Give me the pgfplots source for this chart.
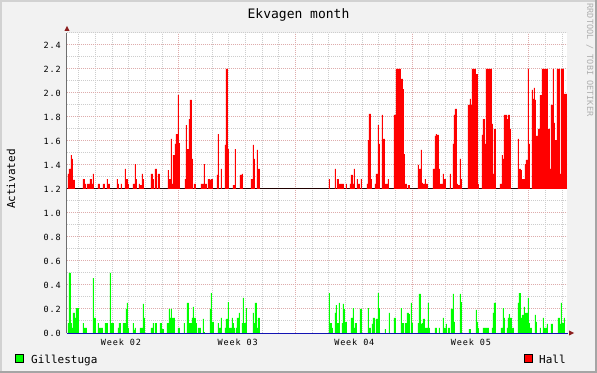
\documentclass[border=0pt]{standalone}
\usepackage{fontspec}
\usepackage{pgfplots}
\pgfplotsset{compat=1.18}
\newfontfamily\rrdmono{DejaVu Sans Mono}
\newfontfamily\rrdspaced{DejaVu Sans Mono}[LetterSpace=10]
\newcommand{\tickfont}{\rrdspaced\fontsize{8.5bp}{10bp}\selectfont}
\newcommand{\lblfont}{\rrdmono\fontsize{11bp}{13bp}\selectfont}
\newcommand{\titlefont}{\rrdmono\fontsize{13bp}{15bp}\selectfont}
\newcommand{\wmfont}{\rrdmono\fontsize{8.5bp}{10bp}\selectfont}
\definecolor{canvas}{RGB}{242,242,242}
\definecolor{mgrid}{RGB}{222,172,172}
\definecolor{sgrid}{RGB}{205,205,205}
\definecolor{axisc}{RGB}{110,110,110}
\definecolor{arrowc}{RGB}{140,30,30}
\definecolor{shadea}{RGB}{210,210,210}
\definecolor{shadeb}{RGB}{165,165,165}
\definecolor{hallred}{RGB}{255,0,0}
\definecolor{gillgreen}{RGB}{0,255,0}
\definecolor{baseblue}{RGB}{20,20,180}
\definecolor{wm}{RGB}{175,175,175}
\begin{document}
\begin{tikzpicture}
% canvas and frame (axis lower-left at origin)
\fill[canvas] (-67bp,-40bp) rectangle (530bp,333bp);
\fill[shadea] (-67bp,331bp) rectangle (530bp,333bp);
\fill[shadea] (-67bp,-40bp) rectangle (-65bp,333bp);
\fill[shadeb] (-67bp,-40bp) rectangle (530bp,-38bp);
\fill[shadeb] (528bp,-40bp) rectangle (530bp,333bp);
\begin{axis}[
  at={(0,0)}, anchor=south west,
  scale only axis, width=500bp, height=300bp,
  xmin=67, xmax=567, ymin=0, ymax=2.5,
  clip=false,
  axis background/.style={fill=white},
  axis line style={draw=none},
  tick style={draw=none},
  major tick length=0pt, minor tick length=0pt,
  xtick={179,295.67,412.33,529},
  xticklabels={},
  minor xtick={79,95.67,112.33,129,145.67,162.33,195.67,212.33,229,245.67,262.33,279,312.33,329,345.67,362.33,379,395.67,429,445.67,462.33,479,495.67,512.33,545.67,562.33},
  extra x ticks={121,237.67,354.33,471},
  extra x tick labels={Week 02,Week 03,Week 04,Week 05},
  extra x tick style={grid=none},
  xticklabel style={font=\tickfont, anchor=base, inner sep=0pt, yshift=-12bp},
  ytick={0,0.2,0.4,0.6,0.8,1.0,1.2,1.4,1.6,1.8,2.0,2.2,2.4},
  yticklabels={0.0,0.2,0.4,0.6,0.8,1.0,1.2,1.4,1.6,1.8,2.0,2.2,2.4},
  minor ytick={0.1,0.3,0.5,0.7,0.9,1.1,1.3,1.5,1.7,1.9,2.1,2.3,2.5},
  yticklabel style={font=\tickfont, anchor=east, inner sep=0pt, xshift=-6bp},
  xmajorgrids, xminorgrids, ymajorgrids, yminorgrids,
  major grid style={mgrid, line width=1bp, dash pattern=on 1bp off 1bp},
  minor grid style={sgrid, line width=1bp, dash pattern=on 1bp off 1bp},
  title={Ekvagen month},
  every axis title/.style={at={(axis description cs:0.463,1.0483)}, anchor=base, font=\titlefont},
  ylabel={Activated},
  every axis y label/.style={at={(axis description cs:-0.112,0.513)}, rotate=90, anchor=center, font=\lblfont},
]
% baseline of the Hall band
\addplot[black, line width=1bp] coordinates {(67,1.2) (567,1.2)};
% Hall (drawn offset by 1.2)
\addplot[const plot, fill=hallred, draw=none] coordinates {
(67,1.2)(68,1.325)(69,1.367)(71,1.483)(72,1.45)(73,1.275)(75,1.2)
(83,1.283)(85,1.242)(86,1.2)(87,1.242)(90,1.283)(92,1.242)(93,1.325)(94,1.2)
(98,1.242)(100,1.2)(103,1.242)(105,1.2)(107,1.283)(108,1.242)(110,1.2)
(117,1.283)(118,1.242)(119,1.2)(121,1.242)(122,1.2)
(125,1.367)(126,1.283)(128,1.242)(129,1.2)
(133,1.242)(135,1.408)(136,1.283)(137,1.2)(139,1.242)(140,1.233)(142,1.325)(143,1.283)(144,1.2)
(151,1.325)(153,1.283)(154,1.2)(155,1.367)(157,1.2)(158,1.325)(160,1.2)
(168,1.358)(169,1.283)(171,1.617)(172,1.242)(173,1.483)(175,1.575)(176,1.658)(178,1.983)(179,1.583)(180,1.2)
(185,1.283)(186,1.733)(187,1.533)(189,1.783)(190,1.942)(192,1.45)(193,1.2)(194,1.242)(196,1.2)
(201,1.242)(204,1.408)(205,1.242)(207,1.2)(208,1.283)(210,1.275)(211,1.283)(213,1.2)
(217,1.317)(218,1.658)(219,1.2)(221,1.367)(222,1.2)
(225,1.567)(226,2.2)(228,1.533)(229,1.2)
(233,1.233)(235,1.533)(236,1.2)
(240,1.317)(242,1.325)(243,1.2)
(251,1.283)(253,1.567)(254,1.45)(255,1.2)(257,1.525)(258,1.367)(260,1.2)
(329,1.283)(330,1.2)
(335,1.367)(336,1.2)(337,1.283)(339,1.242)(344,1.2)
(346,1.242)(347,1.2)
(350,1.242)(351,1.317)(353,1.242)(354,1.367)(355,1.2)
(357,1.283)(358,1.242)(360,1.2)(361,1.283)(362,1.2)
(367,1.242)(368,1.608)(369,1.825)(371,1.283)(372,1.2)
(375,1.242)(376,1.325)(378,1.733)(379,1.575)(380,1.2)
(382,1.817)(383,1.617)(385,1.242)(388,1.283)(389,1.2)
(394,1.817)(396,2.2)(401,2.117)(403,2.033)(404,1.49)(405,1.242)(407,1.2)(408,1.233)(410,1.2)
(418,1.4)(419,1.367)(421,1.525)(422,1.25)(423,1.242)(425,1.283)(426,1.242)(428,1.2)
(433,1.367)(435,1.642)(436,1.658)(437,1.65)(439,1.367)(440,1.242)(443,1.325)(444,1.283)(446,1.2)
(450,1.325)(451,1.2)
(453,1.575)(454,1.817)(455,1.867)(457,1.242)(458,1.233)(460,1.45)(461,1.283)(462,1.2)
(468,1.9)(470,1.95)(471,1.9)(472,2.2)(476,2.158)(478,1.242)(479,1.2)
(482,1.65)(483,1.783)(485,1.575)(486,2.2)(492,1.742)(493,1.325)(494,1.7)(496,1.2)
(500,1.242)(502,1.483)(503,1.45)(504,1.817)(507,1.783)(508,1.817)(510,1.7)(511,1.2)
(518,1.617)(519,1.367)(521,1.358)(522,1.283)(525,1.408)(526,1.442)(528,2.2)(529,1.575)(530,1.2)
(532,2.025)(533,1.95)(534,2.042)(535,1.942)(536,1.642)(538,1.7)(540,1.983)(542,2.2)(548,1.7)(550,1.367)(551,1.9)(553,2.2)(554,1.75)(555,1.608)(557,2.2)(560,1.325)(561,2.2)(564,1.992)(566,1.992)(567,1.2)
};
% Gillestuga
\addplot[const plot, fill=gillgreen, draw=none] coordinates {
(67,0)(68,0.083)(69,0.5)(71,0.083)(72,0.042)(73,0.167)(75,0.125)(76,0.208)(79,0)
(83,0.083)(84,0.042)(87,0)
(93,0.458)(94,0.125)(96,0)
(98,0.083)(99,0.042)(103,0)
(105,0.083)(108,0)
(110,0.5)(111,0.083)(114,0)
(118,0.042)(119,0.083)(121,0)
(123,0.083)(126,0.2)(127,0.25)(128,0.042)(129,0)
(133,0.083)(134,0.025)(135,0.042)(136,0)
(140,0.042)(143,0.242)(144,0.125)(145,0)
(151,0.042)(153,0.083)(154,0)(155,0.083)(157,0)
(160,0.083)(162,0.033)(164,0)
(167,0.083)(169,0.2)(170,0.125)(171,0.2)(172,0.125)(175,0)
(178,0.042)(180,0)
(184,0.083)(185,0)
(187,0.25)(189,0.083)(192,0.125)(193,0.217)(194,0.125)(196,0.083)(197,0)
(198,0.042)(201,0)
(203,0.117)(204,0.008)(205,0)
(210,0.2)(211,0.333)(212,0.092)(214,0)
(218,0.083)(219,0.042)(221,0.125)(222,0)
(225,0.042)(226,0.117)(228,0.258)(229,0.042)(232,0.125)(233,0.083)(234,0.042)(235,0)
(236,0.042)(237,0.125)(239,0.167)(240,0)
(242,0.083)(243,0.292)(244,0.083)(246,0.208)(247,0)
(253,0.167)(254,0.083)(255,0.25)(257,0.042)(258,0.125)(260,0)
(329,0.333)(330,0.083)(332,0.042)(333,0)
(335,0.167)(336,0.233)(337,0.083)(339,0.25)(340,0)
(342,0.083)(343,0.242)(344,0.2)(345,0.092)(347,0)
(351,0.125)(353,0.208)(354,0.042)(355,0.083)(357,0)
(360,0.2)(362,0)
(368,0.208)(369,0.042)(371,0)
(372,0.075)(373,0.125)(375,0)
(376,0.117)(378,0.333)(379,0.208)(380,0)
(385,0.033)(386,0)
(389,0.167)(390,0)
(394,0.125)(396,0)
(401,0.208)(402,0.083)(404,0)
(405,0.083)(407,0.167)(409,0.158)(410,0)
(411,0.25)(412,0.083)(413,0)
(418,0.083)(419,0.325)(421,0.075)(422,0.083)(423,0.117)(425,0.042)(428,0.25)(429,0.042)(430,0)
(435,0.042)(437,0)
(439,0.042)(440,0)
(443,0.125)(444,0.042)(446,0.075)(447,0)
(448,0.042)(450,0)
(451,0.2)(453,0.325)(454,0.092)(455,0)
(460,0.325)(461,0.258)(462,0)
(469,0.033)(471,0)
(476,0.192)(477,0.092)(478,0.042)(479,0)
(483,0.042)(489,0)
(492,0.042)(493,0.167)(494,0.25)(496,0)
(501,0.042)(503,0.208)(504,0.125)(505,0)
(507,0.042)(508,0.125)(509,0.158)(510,0.125)(512,0.042)(514,0)
(518,0.25)(519,0.333)(521,0.125)(522,0.15)(524,0.217)(525,0.167)(528,0.292)(529,0.083)(530,0.042)(532,0)
(535,0.15)(536,0.092)(537,0)
(540,0.042)(541,0)
(543,0.125)(544,0.042)(547,0.075)(548,0)
(551,0.075)(553,0)
(558,0.125)(560,0.075)(561,0.25)(562,0.083)(564,0.125)(565,0)(567,0)
};
% zero line
\addplot[baseblue, line width=1bp] coordinates {(67,0) (568,0)};
% y axis line
\draw[axisc, line width=1bp] (rel axis cs:0,0) -- (rel axis cs:0,1);
\end{axis}
% axis arrows
\fill[arrowc] (-2.5bp,302bp) -- (2.5bp,302bp) -- (0bp,307bp) -- cycle;
\fill[arrowc] (502bp,-2.5bp) -- (502bp,2.5bp) -- (507bp,0bp) -- cycle;
% watermark
\node[rotate=-90, anchor=center, text=wm, font=\wmfont, inner sep=0pt] at (523bp,273bp) {RRDTOOL / TOBI OETIKER};
% legend
\filldraw[fill=gillgreen, draw=black, line width=1bp] (-51.5bp,-29.5bp) rectangle (-43.5bp,-21.5bp);
\node[anchor=base west, inner sep=0pt, font=\lblfont] at (-36bp,-30bp) {Gillestuga};
\filldraw[fill=hallred, draw=black, line width=1bp] (457.5bp,-29.5bp) rectangle (465.5bp,-21.5bp);
\node[anchor=base west, inner sep=0pt, font=\lblfont] at (472bp,-30bp) {Hall};
\end{tikzpicture}
\end{document}
